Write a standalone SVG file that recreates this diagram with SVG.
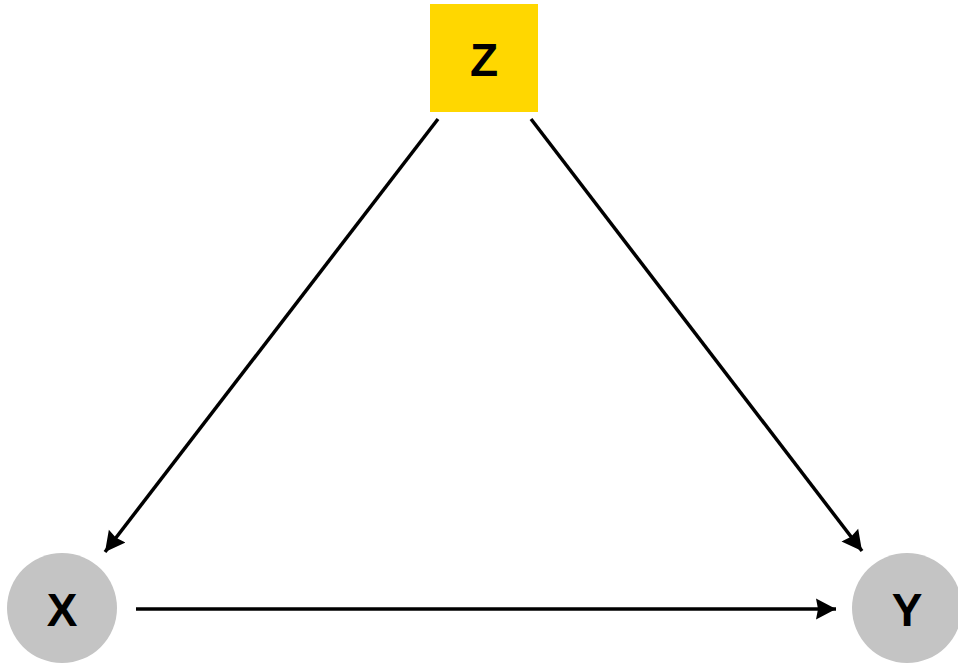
<svg xmlns="http://www.w3.org/2000/svg" width="958" height="664" viewBox="0 0 958 664">
<style>
.lbl{font-family:"Liberation Sans",Arial,sans-serif;font-weight:bold;font-size:46px;fill:#000;text-anchor:middle;dominant-baseline:central}
.edge{stroke:#000;stroke-width:3.5;fill:none;marker-end:url(#arr)}
</style>
<defs>
<marker id="arr" markerUnits="userSpaceOnUse" markerWidth="22" markerHeight="24" refX="20" refY="11" orient="auto">
<path d="M0,0.5 L20,11 L0,21.5 L2,11 Z" fill="#000"/>
</marker>
</defs>
<rect width="958" height="664" fill="#fff"/>
<g id="connectors">
<line class="edge" x1="438" y1="119" x2="105" y2="552"/>
<line class="edge" x1="531" y1="119" x2="862" y2="551"/>
<line class="edge" x1="136" y1="609" x2="836" y2="609"/>
</g>
<g id="node-Z">
<rect x="430" y="4" width="108" height="108" fill="#FFD700"/>
<text class="lbl" x="484" y="60">Z</text>
</g>
<g id="node-X">
<circle cx="62" cy="608" r="55" fill="#C4C4C4"/>
<text class="lbl" x="62" y="610">X</text>
</g>
<g id="node-Y">
<circle cx="907" cy="608" r="55" fill="#C4C4C4"/>
<text class="lbl" x="907" y="610">Y</text>
</g>
</svg>
